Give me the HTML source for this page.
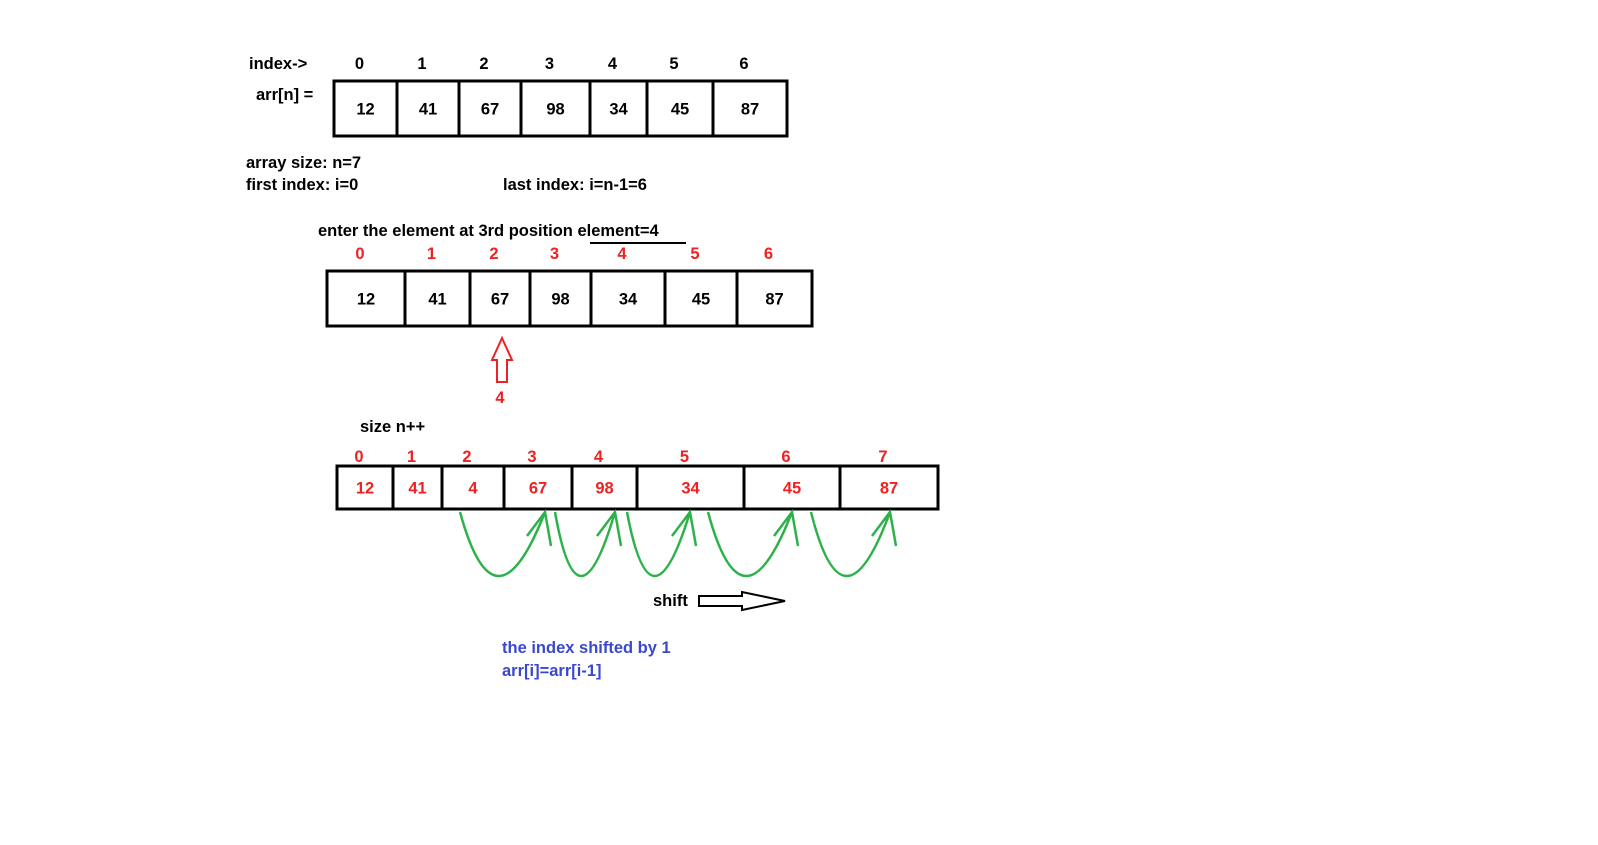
<!DOCTYPE html>
<html><head><meta charset="utf-8"><style>
body{margin:0;background:#fff}
svg{display:block}
text{font-family:"Liberation Sans",sans-serif;font-weight:bold;font-size:16.5px}
</style></head><body>
<svg id="s" width="1598" height="845" viewBox="0 0 1598 845">
<text x="249" y="69">index-&gt;</text>
<text x="256" y="100">arr[n]  =</text>
<text x="246" y="168">array size: n=7</text>
<text x="246" y="190">first index: i=0</text>
<text x="503" y="190">last index: i=n-1=6</text>
<text x="318" y="236">enter the element at 3rd position  element=4</text>
<line x1="590" y1="243" x2="686" y2="243" stroke="#000" stroke-width="2"/>
<path d="M497,382 L497,360 L492,360 L502,338 L512,360 L507,360 L507,382 Z" fill="none" stroke="#e22" stroke-width="2"/>
<text x="500" y="403" text-anchor="middle" fill="#e22">4</text>
<text x="360" y="432">size n++</text>
<text x="653" y="606">shift</text>
<path d="M699,596 L742,596 L742,592 L785,601 L742,610 L742,606 L699,606 Z" fill="none" stroke="#000" stroke-width="2"/>
<text x="502" y="653" fill="#3a48d0">the index shifted by 1</text>
<text x="502" y="676" fill="#3a48d0">arr[i]=arr[i-1]</text>
<g id="g"></g>
</svg>
<script>
const arr1 = [12, 41, 67, 98, 34, 45, 87];
const arr2 = [12, 41, 67, 98, 34, 45, 87];
const arr3 = [12, 41, 4, 67, 98, 34, 45, 87];
const edges1 = [334, 397, 459, 521, 590, 647, 713, 787];
const edges2 = [327, 405, 470, 530, 591, 665, 737, 812];
const edges3 = [337, 393, 442, 504, 572, 637, 744, 840, 938];
const g = document.getElementById('g');
const NS = 'http://www.w3.org/2000/svg';
function mk(t, a) { const e = document.createElementNS(NS, t); for (const k in a) e.setAttribute(k, a[k]); g.appendChild(e); return e; }
function drawArr(vals, edges, y0, y1, ly, idxColor, valColor, name) {
  for (let i = 0; i < vals.length; i++) {
    const x0 = edges[i], x1 = edges[i + 1];
    const r = mk('rect', { x: x0, y: y0, width: x1 - x0, height: y1 - y0, fill: 'none', stroke: '#000', 'stroke-width': 3 });
    
    
    const t = mk('text', { x: (x0 + x1) / 2, y: (y0 + y1) / 2 + 6, 'text-anchor': 'middle', fill: valColor });
    t.textContent = vals[i];
    
    
    const l = mk('text', { x: (x0 + x1) / 2 - 6, y: ly, 'text-anchor': 'middle', fill: idxColor });
    l.textContent = i;
    
    
  }
}
drawArr(arr1, edges1, 81, 136, 69, '#000', '#000', 'original-array');
drawArr(arr2, edges2, 271, 326, 259, '#e22', '#000', 'insert-array');
drawArr(arr3, edges3, 466, 509, 462, '#e22', '#e22', 'shifted-array');
const arcs = [[445, 545], [540, 615], [612, 690], [693, 792], [796, 890]];
for (let i = 0; i < arcs.length; i++) {
  const [a, b] = arcs[i];
  const m = (a + b) / 2;
  const p = mk('path', { d: `M${a + 15},512 Q${m},640 ${b},512 M${b - 18},536 L${b},512 L${b + 6},546`, fill: 'none', stroke: '#2db24a', 'stroke-width': 2.5 });
  
  
}
</script>
</body></html>
